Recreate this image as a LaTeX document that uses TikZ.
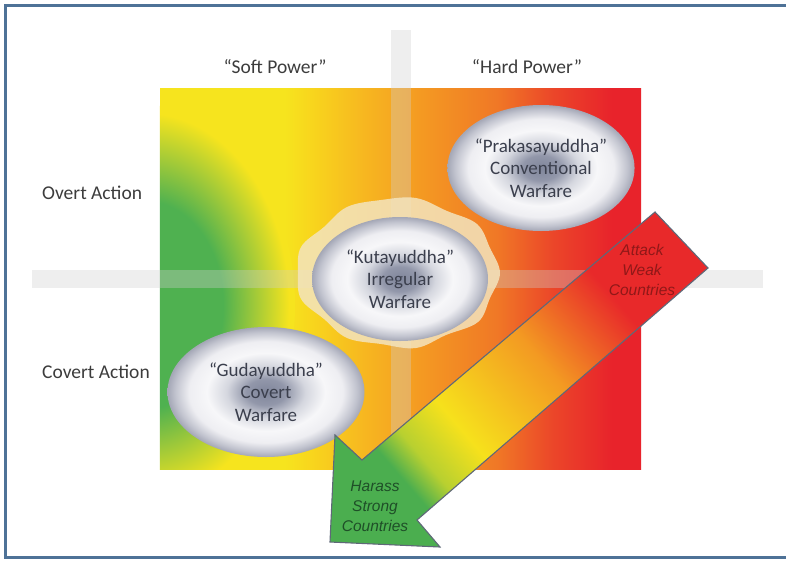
\documentclass[tikz,border=0pt]{standalone}
\usepackage{fontspec}
\setmainfont{Carlito}
\newfontfamily\arrowfont{Liberation Sans}
\usetikzlibrary{shapes.geometric}

\definecolor{framec}{HTML}{4E7297}
\definecolor{bgA}{HTML}{F6E41E}
\definecolor{bgB}{HTML}{F8D41D}
\definecolor{bgC}{HTML}{F7B820}
\definecolor{bgD}{HTML}{F49A22}
\definecolor{bgE}{HTML}{F07826}
\definecolor{bgF}{HTML}{EB4529}
\definecolor{bgG}{HTML}{E8232B}
\definecolor{blobgreen}{HTML}{4FB150}
\definecolor{blobmid}{HTML}{9CC83A}
\definecolor{barc}{HTML}{D0D0D0}
\definecolor{glowc}{HTML}{F3E4BE}
\definecolor{elA}{HTML}{80869B}
\definecolor{elB}{HTML}{9297AA}
\definecolor{elC}{HTML}{D5D7DF}
\definecolor{elD}{HTML}{F7F7F9}
\definecolor{elE}{HTML}{EEEEF2}
\definecolor{elF}{HTML}{C2C4CF}
\definecolor{elG}{HTML}{A4A7B6}
\definecolor{arG}{HTML}{4BAE4F}
\definecolor{arYG}{HTML}{B8D030}
\definecolor{arY}{HTML}{F6E11C}
\definecolor{arO}{HTML}{F39A22}
\definecolor{arR}{HTML}{E8292A}
\definecolor{arline}{HTML}{5F6878}
\definecolor{labeltext}{HTML}{3C3C3C}
\definecolor{elltext}{HTML}{3B3F4D}
\definecolor{attacktext}{HTML}{7A1414}
\definecolor{harasstext}{HTML}{1F4F28}

% pgf maps the central 50bp of a 100bp shading onto the path's bounding box
\pgfdeclarehorizontalshading{bgshade}{100bp}{color(0bp)=(bgA); color(38bp)=(bgA); color(41bp)=(bgB); color(46bp)=(bgC); color(52bp)=(bgD); color(60bp)=(bgE); color(66bp)=(bgF); color(72bp)=(bgG); color(100bp)=(bgG)}
\pgfdeclareradialshading{ellshade}{\pgfpoint{0bp}{0bp}}{color(0bp)=(elA); color(5bp)=(elB); color(10bp)=(elC); color(15bp)=(elD); color(19.5bp)=(elE); color(23bp)=(elF); color(25bp)=(elG); color(50bp)=(elG)}
\pgfdeclarehorizontalshading{arrowshade}{100bp}{color(0bp)=(arG); color(35bp)=(arG); color(38bp)=(arYG); color(43bp)=(arY); color(54bp)=(arO); color(64bp)=(arR); color(100bp)=(arR)}
\pgfdeclareradialshading{blobshade}{\pgfpoint{0bp}{0bp}}{color(0bp)=(blobgreen); color(13bp)=(blobgreen); color(18bp)=(blobmid); color(24bp)=(bgA); color(50bp)=(bgA)}

\tikzset{
  warfare/.style={ellipse, shade, shading=ellshade, inner sep=0pt, align=center,
    font=\fontsize{19}{22.5}\selectfont, text=elltext},
  axislabel/.style={font=\fontsize{19.5}{23}\selectfont, text=labeltext, inner sep=0pt},
  arrowtext/.style={font=\arrowfont\itshape\fontsize{15.5}{20}\selectfont, align=center, inner sep=0pt},
  crossbar/.style={fill=barc, opacity=0.35},
  arrowedge/.style={draw=arline, line width=1.1pt, line join=miter},
}

\begin{document}
\begin{tikzpicture}[x=1pt, y=-1pt]
\useasboundingbox (0,0) rectangle (786,560);
\fill[white] (0,0) rectangle (786,560);
\draw[framec, line width=3pt] (5,5) rectangle (800,557);

% field
\node[shade, shading=bgshade, minimum width=481pt, minimum height=381pt, inner sep=0pt] (field) at (400.5,278.5) {};
\begin{scope}
  \clip (field.south west) rectangle (field.north east);
  \shade[shading=blobshade] (145,305) ellipse [x radius=150pt, y radius=200pt];
\end{scope}

% crosshair
\fill[crossbar] (391,30) rectangle (411,530);
\fill[crossbar] (32,270) rectangle (763,288);

% glow
\fill[glowc, opacity=0.85] plot[smooth cycle, tension=0.6] coordinates {
 (500,273) (490,298) (478,322) (446,335) (416,348) (381,344) (347,338) (324,319)
 (301,299) (298,273) (301,247) (324,227) (347,207) (381,200) (416,198) (447,211)
 (477,224) (490,248)};

% ellipses
\node[warfare, minimum width=156pt, minimum height=126pt] (praka) at (541,168)
  {“Prakasayuddha”\\Conventional\\Warfare};
\node[warfare, minimum width=176pt, minimum height=124pt] (kuta) at (400,279)
  {“Kutayuddha”\\Irregular\\Warfare};
\node[warfare, minimum width=197pt, minimum height=130pt] (guda) at (266,392)
  {“Gudayuddha”\\Covert\\Warfare};

% labels
\node[axislabel] (soft) at (275,67) {“Soft Power”};
\node[axislabel] (hard) at (527,67) {“Hard Power”};
\node[axislabel, anchor=west] (overt) at (42,193) {Overt Action};
\node[axislabel, anchor=west] (covert) at (42,372) {Covert Action};

% arrow
\coordinate (t1) at (655,212);
\coordinate (t2) at (708,268);
\coordinate (i2) at (417,520);
\coordinate (w2) at (440,547);
\coordinate (tip) at (330,542);
\coordinate (w1) at (335,435);
\coordinate (i1) at (362,460);
\begin{scope}
  \clip (t1) -- (t2) -- (i2) -- (w2) -- (tip) -- (w1) -- (i1) -- cycle;
  \begin{scope}[transform canvas={shift={(330pt,-542pt)}, rotate=40.7}]
    \shade[shading=arrowshade] (0pt,-100pt) rectangle (480pt,100pt);
  \end{scope}
\end{scope}
\draw[arrowedge] (t1) -- (t2) -- (i2) -- (w2) -- (tip) -- (w1) -- (i1) -- cycle;

\node[arrowtext, text=attacktext, text opacity=0.8] (attack) at (642,270) {Attack\\Weak\\Countries};
\node[arrowtext, text=harasstext] (harass) at (375,506) {Harass\\Strong\\Countries};
\end{tikzpicture}
\end{document}
